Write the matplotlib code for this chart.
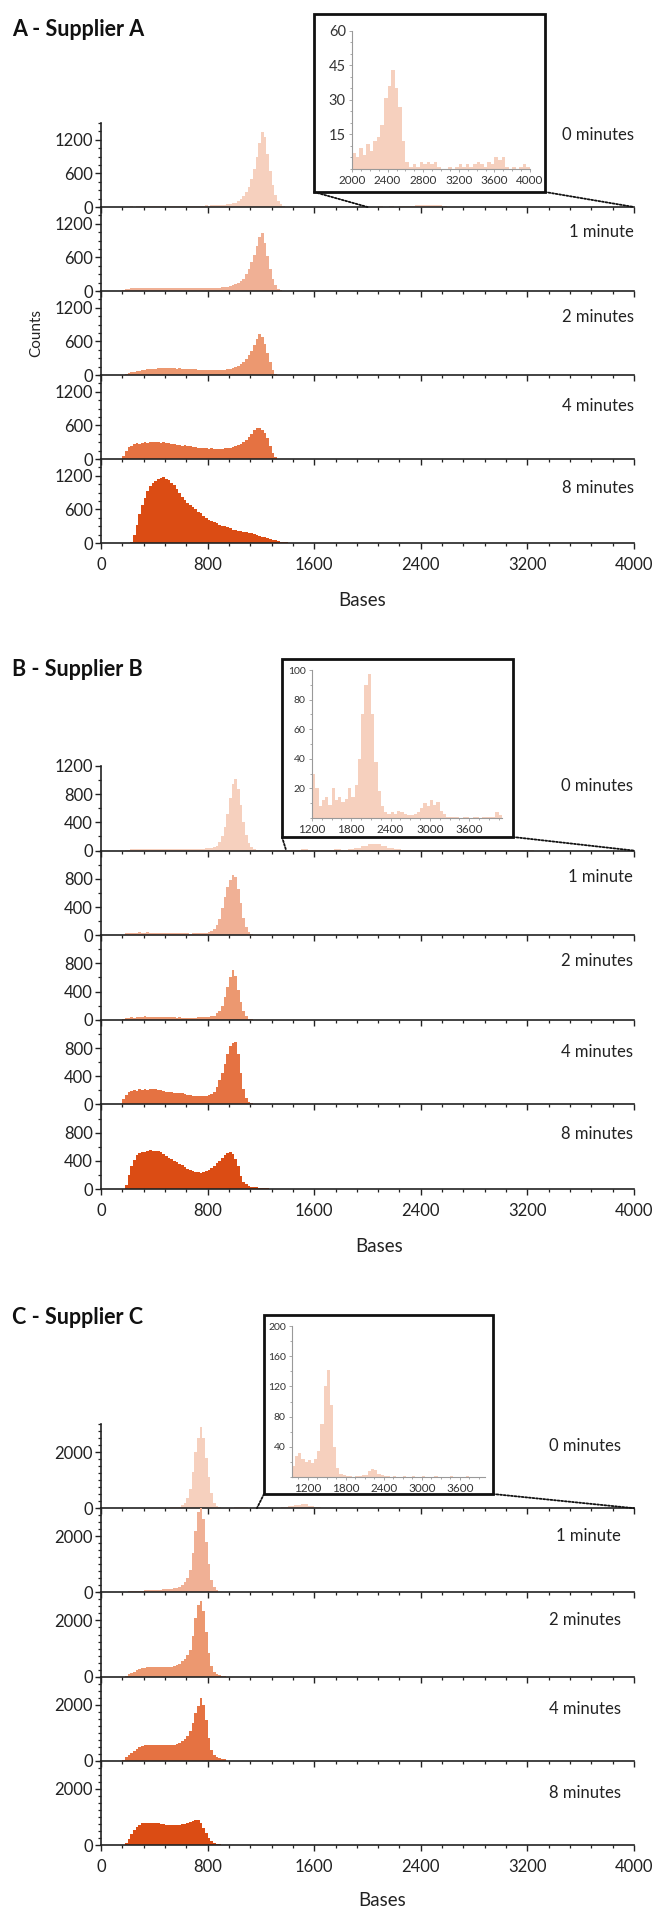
import matplotlib.pyplot as plt
from matplotlib.patches import Rectangle, ConnectionPatch
from matplotlib.ticker import MultipleLocator, FixedLocator

plt.rcParams['font.family'] = ['Lato', 'DejaVu Sans']

W, H = 656, 1910

TIMES = ["0 minutes", "1 minute", "2 minutes", "4 minutes", "8 minutes"]
COLORS = ["#F6D0BE", "#F0B095", "#EC9870", "#E57242", "#DB4C14"]
BIN = 20

# ---- Supplier A, 20-base bins from 160 ----
A_START = 160
A_0MIN = [0, 5, 8, 10, 8, 10, 12, 10, 12, 10,
          12, 14, 12, 15, 14, 16, 15, 18, 16, 20,
          18, 20, 22, 20, 22, 24, 22, 25, 24, 26,
          25, 28, 26, 30, 28, 32, 35, 38, 42, 48,
          55, 65, 80, 100, 140, 190, 260, 360, 500, 680,
          900, 1150, 1340, 1250, 950, 640, 400, 220, 110, 50,
          20, 8, 4, 2, 0]
A_1MIN = [10, 30, 40, 45, 45, 50, 48, 50, 52, 50,
          55, 52, 55, 58, 55, 60, 58, 62, 60, 58,
          62, 60, 58, 60, 55, 58, 55, 52, 55, 52,
          55, 52, 55, 58, 55, 60, 62, 65, 70, 78,
          90, 105, 125, 150, 170, 220, 300, 400, 520, 650,
          800, 960, 1040, 850, 620, 400, 220, 100, 40, 12,
          4, 1, 0, 0, 0]
A_2MIN = [0, 15, 30, 45, 55, 65, 75, 85, 90, 100,
          105, 110, 115, 120, 118, 125, 120, 122, 118, 120,
          115, 118, 112, 110, 105, 108, 100, 102, 98, 95,
          98, 92, 90, 88, 90, 92, 90, 95, 98, 102,
          110, 120, 135, 160, 200, 240, 290, 350, 430, 540,
          650, 740, 680, 560, 400, 230, 90, 20, 5, 0,
          0, 0, 0, 0, 0]
A_4MIN = [60, 150, 210, 240, 260, 280, 270, 290, 300, 285,
          300, 310, 295, 305, 290, 300, 280, 285, 270, 265,
          255, 250, 240, 245, 230, 225, 215, 210, 200, 205,
          195, 190, 185, 190, 180, 185, 180, 185, 190, 195,
          200, 210, 225, 245, 270, 300, 340, 390, 450, 510,
          555, 560, 520, 460, 380, 240, 110, 30, 5, 0,
          0, 0, 0, 0, 0]
A_8MIN = [0, 0, 0, 20, 150, 330, 520, 680, 800, 920,
          1020, 1070, 1110, 1140, 1160, 1180, 1150, 1120, 1080, 1030,
          970, 900, 820, 760, 720, 680, 640, 600, 560, 530,
          490, 450, 410, 390, 370, 350, 330, 310, 295, 280,
          260, 240, 230, 220, 210, 200, 190, 180, 170, 155,
          140, 128, 115, 100, 88, 75, 60, 47, 35, 25,
          18, 10, 5, 2, 0]

# inset A: 0 minutes, 40-base bins from 2000
A_INSET_START, A_INSET_BIN = 2000, 40
A_INSET = [7, 5, 9, 6, 11, 8, 12, 14, 19, 31,
           36, 43, 35, 27, 12, 3, 1, 2, 1, 3,
           2, 3, 2, 3, 1, 0, 0, 1, 0, 1,
           2, 1, 2, 1, 2, 3, 2, 1, 3, 2,
           5, 4, 5, 1, 0, 1, 0, 1, 2, 1]

# ---- Supplier B, 20-base bins from 160 ----
B_START = 160
B_0MIN = [0, 10, 15, 20, 22, 20, 25, 22, 25, 28,
          25, 22, 25, 20, 22, 20, 18, 20, 18, 20,
          22, 20, 18, 20, 22, 20, 22, 25, 22, 25,
          28, 30, 35, 40, 50, 70, 120, 200, 330, 520,
          750, 940, 1010, 880, 640, 400, 220, 110, 50, 25,
          15, 10, 8, 6, 5, 4, 3]
B_1MIN = [5, 25, 32, 35, 38, 35, 40, 38, 36, 40,
          35, 38, 34, 36, 32, 35, 30, 32, 28, 30,
          28, 26, 28, 25, 26, 24, 25, 26, 28, 30,
          32, 38, 45, 60, 90, 140, 230, 380, 540, 680,
          780, 850, 830, 660, 450, 250, 110, 50, 20, 8,
          3, 1, 0, 0, 0, 0, 0]
B_2MIN = [5, 25, 30, 35, 32, 38, 40, 45, 48, 45,
          42, 40, 38, 40, 36, 38, 35, 36, 34, 35,
          32, 34, 30, 32, 30, 32, 30, 32, 34, 35,
          38, 40, 45, 52, 60, 90, 130, 200, 320, 460,
          600, 700, 620, 420, 250, 120, 50, 15, 5, 2,
          0, 0, 0, 0, 0, 0, 0]
B_4MIN = [80, 140, 170, 185, 200, 195, 215, 205, 225, 210,
          220, 215, 225, 205, 200, 190, 180, 175, 170, 165,
          160, 165, 155, 150, 140, 135, 125, 120, 115, 120,
          118, 125, 130, 145, 170, 250, 340, 450, 580, 720,
          830, 870, 885, 720, 450, 220, 90, 40, 18, 8,
          3, 1, 0, 0, 0, 0, 0]
B_8MIN = [0, 60, 200, 320, 410, 480, 515, 525, 530, 540,
          550, 545, 540, 535, 520, 500, 470, 445, 420, 400,
          385, 360, 335, 310, 290, 265, 250, 240, 235, 232,
          240, 255, 270, 300, 330, 365, 400, 440, 480, 510,
          520, 490, 430, 320, 180, 100, 70, 45, 35, 28,
          22, 18, 14, 10, 8, 5, 3]

# inset B: 0 minutes, 50-base bins from 1200
B_INSET_START, B_INSET_BIN = 1200, 50
B_INSET = [30, 20, 8, 12, 14, 9, 20, 12, 14, 11,
           13, 20, 14, 22, 40, 70, 90, 97, 70, 38,
           18, 8, 4, 3, 4, 3, 5, 4, 3, 2,
           2, 3, 4, 7, 10, 8, 12, 9, 11, 5,
           3, 1, 1, 1, 1, 0, 1, 1, 0, 1,
           1, 0, 1, 1, 1, 1, 4, 2]

# ---- Supplier C, 20-base bins from 140 ----
C_START = 140
C_0MIN = [0, 0, 0, 5, 5, 8, 8, 10, 10, 10,
          12, 12, 12, 14, 14, 16, 16, 18, 20, 25,
          30, 40, 60, 100, 180, 350, 700, 1300, 2000, 2500,
          2900, 2500, 1800, 1100, 550, 200, 70, 25, 10, 3]
C_1MIN = [0, 0, 20, 35, 40, 45, 50, 55, 60, 70,
          75, 80, 85, 90, 95, 100, 105, 110, 120, 130,
          145, 170, 210, 260, 360, 500, 800, 1400, 2200, 2850,
          3100, 2600, 1800, 1000, 450, 180, 80, 30, 12, 5]
C_2MIN = [0, 0, 30, 80, 130, 180, 220, 260, 290, 310,
          330, 345, 350, 355, 350, 345, 350, 340, 350, 355,
          370, 400, 460, 540, 640, 780, 950, 1450, 2100, 2550,
          2700, 2350, 1600, 850, 380, 170, 100, 60, 35, 20]
C_4MIN = [0, 40, 130, 210, 290, 360, 430, 480, 520, 550,
          560, 575, 580, 575, 570, 565, 560, 555, 560, 570,
          580, 600, 630, 690, 780, 880, 1050, 1350, 1700, 1950,
          2250, 2000, 1450, 800, 380, 200, 130, 100, 70, 50]
C_8MIN = [0, 0, 60, 200, 380, 540, 650, 730, 780, 790,
          800, 800, 790, 780, 770, 760, 740, 720, 710, 700,
          700, 705, 720, 740, 760, 790, 820, 850, 880, 900,
          800, 620, 440, 260, 130, 70, 40, 20, 10, 5]

# inset C: 0 minutes, 50-base bins from 950
C_INSET_START, C_INSET_BIN = 950, 50
C_INSET = [14, 28, 32, 24, 20, 22, 18, 24, 34, 70,
           120, 142, 95, 40, 12, 4, 2, 1, 1, 0,
           1, 1, 2, 3, 8, 10, 9, 4, 2, 1,
           1, 0, 1, 0, 0, 1, 0, 0, 1, 0,
           0, 1, 0, 0, 0, 1, 0, 0, 0, 0,
           1, 0, 0, 0, 0, 1, 0, 0, 0, 0,
           0]


def fx(px):
    return px / W


def fy(py):
    return 1 - py / H


def edges(start, width, n):
    return [start + width * i for i in range(n + 1)]


PANELS = [
    dict(title="A - Supplier A", title_y=29, start=A_START,
         series=[A_0MIN, A_1MIN, A_2MIN, A_4MIN, A_8MIN],
         top=123, bottom=543, ymax=1500, yticks=[0, 600, 1200], ytop=[0, 600, 1200],
         yminor=150, label_right=634, label_fracs=[0.857, 0.70, 0.69, 0.63, 0.65],
         bases=(362, 600), counts=True,
         inset=A_INSET, inset_start=A_INSET_START, inset_bin=A_INSET_BIN,
         box=(314, 14, 545, 192), iax=(352, 30.7, 530, 169),
         ixlim=(2000, 4000), ixticks=[2000, 2400, 2800, 3200, 3600, 4000], ixminor=100,
         iylim=60, iyticks=[15, 30, 45, 60], iyminor=5, conn_x=2000,
         ixsize=8.5, iysize=10.5),
    dict(title="B - Supplier B", title_y=669, start=B_START,
         series=[B_0MIN, B_1MIN, B_2MIN, B_4MIN, B_8MIN],
         top=766, bottom=1189, ymax=1200, yticks=[0, 400, 800], ytop=[0, 400, 800, 1200],
         yminor=200, label_right=633, label_fracs=[0.76, 0.69, 0.69, 0.62, 0.65],
         bases=(379, 1247), counts=False,
         inset=B_INSET, inset_start=B_INSET_START, inset_bin=B_INSET_BIN,
         box=(282, 659, 513, 837), iax=(312, 670, 502, 818),
         ixlim=(1200, 4100), ixticks=[1200, 1800, 2400, 3000, 3600], ixminor=150,
         iylim=100, iyticks=[20, 40, 60, 80, 100], iyminor=10, conn_x=1390,
         ixsize=8.5, iysize=7.5),
    dict(title="C - Supplier C", title_y=1318, start=C_START,
         series=[C_0MIN, C_1MIN, C_2MIN, C_4MIN, C_8MIN],
         top=1424, bottom=1845, ymax=3000, yticks=[0, 2000], ytop=[0, 2000],
         yminor=250, label_right=621, label_fracs=[0.74, 0.67, 0.67, 0.62, 0.62],
         bases=(382, 1900), counts=False,
         inset=C_INSET, inset_start=C_INSET_START, inset_bin=C_INSET_BIN,
         box=(264, 1315, 493, 1494), iax=(292, 1326, 485, 1477),
         ixlim=(950, 4000), ixticks=[1200, 1800, 2400, 3000, 3600], ixminor=150,
         iylim=200, iyticks=[40, 80, 120, 160, 200], iyminor=20, conn_x=1170,
         ixsize=8.5, iysize=7.5),
]

LEFT, RIGHT = 101, 634
SPINE = "#222222"

fig = plt.figure(figsize=(W / 100, H / 100), dpi=100)

for p in PANELS:
    fig.text(fx(12), fy(p["title_y"]), p["title"], fontsize=15.5, fontweight="bold",
             ha="left", va="center", color="#111111")
    h = (p["bottom"] - p["top"]) / 5
    axes = []
    for i, (vals, col, lab) in enumerate(zip(p["series"], COLORS, TIMES)):
        ax_bottom = p["top"] + (i + 1) * h
        ax = fig.add_axes([fx(LEFT), fy(ax_bottom), fx(RIGHT) - fx(LEFT), h / H])
        ax.patch.set_visible(False)
        ax.stairs(vals, edges(p["start"], BIN, len(vals)), fill=True, color=col, lw=0)
        if i == 0:
            # the long tail shown in the inset belongs to the same histogram
            main_end = p["start"] + BIN * len(vals)
            ie = edges(p["inset_start"], p["inset_bin"], len(p["inset"]))
            k = next(j for j, e in enumerate(ie) if e >= main_end)
            ax.stairs(p["inset"][k:], ie[k:], fill=True, color=col, lw=0)
        ax.set_xlim(0, 4000)
        ax.set_ylim(0, p["ymax"])
        for s in ("top", "right"):
            ax.spines[s].set_visible(False)
        for s in ("left", "bottom"):
            ax.spines[s].set_linewidth(1.2)
            ax.spines[s].set_color(SPINE)
        ax.xaxis.set_major_locator(MultipleLocator(800))
        ax.xaxis.set_minor_locator(MultipleLocator(160))
        ax.yaxis.set_major_locator(FixedLocator(p["ytop"] if i == 0 else p["yticks"]))
        ax.yaxis.set_minor_locator(MultipleLocator(p["yminor"]))
        ax.tick_params(which="major", direction="out", length=4, width=1.0,
                       color=SPINE, labelsize=12, pad=2, labelcolor="#222222")
        ax.tick_params(which="minor", direction="out", length=2.2, width=0.9, color=SPINE)
        ax.tick_params(axis="x", which="major", pad=6)
        if i < 4:
            ax.tick_params(labelbottom=False)
        fig.text(fx(p["label_right"]), fy(ax_bottom - p["label_fracs"][i] * h), lab,
                 ha="right", va="center", fontsize=12, color="#222222")
        axes.append(ax)

    bx, by = p["bases"]
    fig.text(fx(bx), fy(by), "Bases", ha="center", va="center", fontsize=13.5, color="#222222")
    if p["counts"]:
        fig.text(fx(36), fy((p["top"] + p["bottom"]) / 2), "Counts", rotation=90,
                 ha="center", va="center", fontsize=11, color="#222222")

    # inset with the long fragments of the 0 minutes sample
    l, t, r, b = p["iax"]
    iax = fig.add_axes([fx(l), fy(b), fx(r) - fx(l), (b - t) / H])
    iax.set_zorder(2)
    iax.stairs(p["inset"], edges(p["inset_start"], p["inset_bin"], len(p["inset"])),
               fill=True, color=COLORS[0], lw=0)
    iax.set_xlim(*p["ixlim"])
    iax.set_ylim(0, p["iylim"])
    for s in ("top", "right"):
        iax.spines[s].set_visible(False)
    for s in ("left", "bottom"):
        iax.spines[s].set_linewidth(0.8)
        iax.spines[s].set_color("#999999")
    iax.xaxis.set_major_locator(FixedLocator(p["ixticks"]))
    iax.xaxis.set_minor_locator(MultipleLocator(p["ixminor"]))
    iax.yaxis.set_major_locator(FixedLocator(p["iyticks"]))
    iax.yaxis.set_minor_locator(MultipleLocator(p["iyminor"]))
    iax.tick_params(which="both", direction="out", color="#999999", width=0.6,
                    labelcolor="#333333", pad=2)
    iax.tick_params(which="major", length=2.5)
    iax.tick_params(which="minor", length=1.5)
    iax.tick_params(axis="x", labelsize=p["ixsize"])
    iax.tick_params(axis="y", labelsize=p["iysize"])

    x0, y0, x1, y1 = p["box"]
    fig.add_artist(Rectangle((fx(x0), fy(y1)), fx(x1) - fx(x0), (y1 - y0) / H,
                             transform=fig.transFigure, fill=False, lw=2.0,
                             ec="#111111", zorder=5))
    for cx, tx in ((x0, p["conn_x"]), (x1, 4000)):
        con = ConnectionPatch(xyA=(fx(cx), fy(y1)), coordsA="figure fraction",
                              xyB=(tx, 0), coordsB=axes[0].transData,
                              linestyle=(0, (1, 1)), lw=1.3, color="#111111")
        con.set_zorder(5)
        fig.add_artist(con)

fig.savefig("out.png", dpi=100)
